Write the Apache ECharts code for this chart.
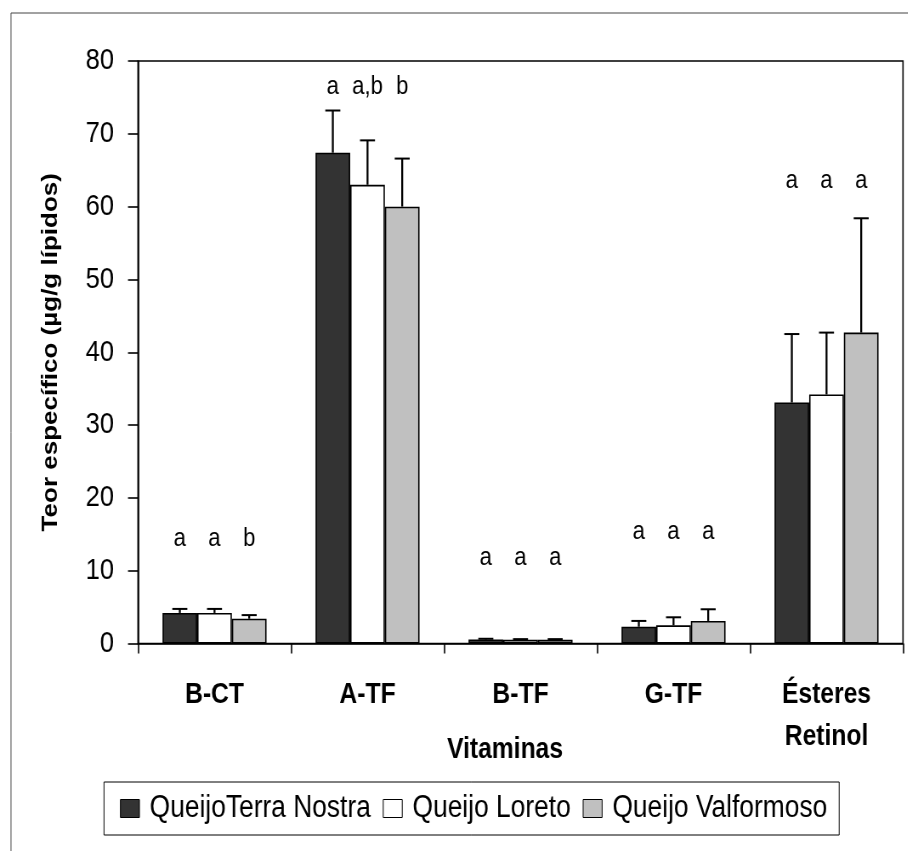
<!DOCTYPE html>
<html>
<head>
<meta charset="utf-8">
<script src="https://cdn.jsdelivr.net/npm/echarts@6/dist/echarts.min.js"></script>
<style>
  html, body { margin: 0; padding: 0; background: #fff; overflow: hidden; }
  #wrap { width: 908px; height: 851px; overflow: hidden; }
  /* The chart is laid out wider and squeezed horizontally, giving the narrow lettering */
  #chart { height: 851px; transform-origin: 0 0; }
</style>
</head>
<body>
<div id="wrap"><div id="chart"></div></div>
<script>
// Vitamin content per cheese (µg/g lipids), mean and upper standard deviation
const categories = ['B-CT', 'A-TF', 'B-TF', 'G-TF', 'Ésteres\nRetinol'];
const seriesNames = ['QueijoTerra Nostra', 'Queijo Loreto', 'Queijo Valformoso'];

const terraNostra = [4.2, 67.4, 0.55, 2.3, 33.1];
const loreto      = [4.2, 63.0, 0.5, 2.5, 34.2];
const valformoso  = [3.4, 60.0, 0.5, 3.1, 42.7];

const terraNostraSd = [0.55, 5.8, 0.1, 0.8, 9.4];
const loretoSd      = [0.55, 6.1, 0.1, 1.1, 8.5];
const valformosoSd  = [0.5, 6.6, 0.1, 1.6, 15.7];

// Significance letters and the height at which each group's letters sit
const lettersTerraNostra = ['a', 'a', 'a', 'a', 'a'];
const lettersLoreto      = ['a', 'a,b', 'a', 'a', 'a'];
const lettersValformoso  = ['b', 'b', 'a', 'a', 'a'];
const letterHeights = [14.4, 76.4, 11.8, 15.4, 63.5];

const yTicks = { min: 0, max: 80, interval: 10 };

const colors = ['#333333', '#ffffff', '#c0c0c0'];
const CAT_GAP = 0.32;
const FONT = "'Liberation Sans', Arial, sans-serif";

// horizontal squeeze factor; x distances below are given in on-screen pixels
const SX = 0.85;
const W = 908 / SX;
const hx = v => v / SX;

const el = document.getElementById('chart');
el.style.width = W + 'px';
el.style.transform = 'scaleX(' + SX + ')';

const means = [terraNostra, loreto, valformoso];
const sds = [terraNostraSd, loretoSd, valformosoSd];
const letters = [lettersTerraNostra, lettersLoreto, lettersValformoso];

function barCenter(api, cat, val, idx) {
  const band = api.size([1, 0])[0];
  const bw = band * (1 - CAT_GAP) / 3;
  const p = api.coord([cat, val]);
  return { x: p[0] + (idx - 1) * bw, y: p[1] };
}

function errorSeries(idx) {
  return {
    type: 'custom',
    name: seriesNames[idx] + ' sd',
    z: 5,
    silent: true,
    data: means[idx].map((m, i) => [i, m, sds[idx][i]]),
    encode: { x: 0, y: 1 },
    renderItem: function (params, api) {
      const c = api.value(0), m = api.value(1), e = api.value(2);
      const base = barCenter(api, c, m, idx);
      const top = barCenter(api, c, m + e, idx);
      return {
        type: 'group',
        children: [
          { type: 'line', shape: { x1: base.x, y1: base.y, x2: base.x, y2: top.y },
            style: { stroke: '#000', lineWidth: 2.3 } },
          { type: 'line', shape: { x1: base.x - hx(7.5), y1: top.y, x2: base.x + hx(7.5), y2: top.y },
            style: { stroke: '#000', lineWidth: 2 } }
        ]
      };
    }
  };
}

function letterSeries(idx) {
  return {
    type: 'custom',
    name: seriesNames[idx] + ' letters',
    z: 6,
    silent: true,
    data: letterHeights.map((h, i) => [i, h]),
    encode: { x: 0, y: 1 },
    renderItem: function (params, api) {
      const c = api.value(0), h = api.value(1);
      const p = barCenter(api, c, h, idx);
      return {
        type: 'text',
        x: p.x,
        y: p.y,
        style: {
          text: letters[idx][params.dataIndex],
          fill: '#000',
          font: '26px ' + FONT,
          align: 'center',
          verticalAlign: 'middle'
        }
      };
    }
  };
}

const chart = echarts.init(el, null, { renderer: 'canvas', width: W, height: 851 });

const barSeries = seriesNames.map((name, idx) => ({
  type: 'bar',
  name: name,
  data: means[idx],
  barGap: '0%',
  barCategoryGap: (CAT_GAP * 100) + '%',
  itemStyle: { color: colors[idx], borderColor: '#000', borderWidth: 1.6 },
  z: 3
}));

chart.setOption({
  animation: false,
  backgroundColor: '#fff',
  textStyle: { fontFamily: FONT },
  graphic: [{
    type: 'rect',
    shape: { x: hx(11), y: 13, width: 2000, height: 1000 },
    style: { fill: 'none', stroke: '#444', lineWidth: 1 },
    z: -10
  }],
  grid: {
    left: hx(138), right: hx(5), top: 61, bottom: 207.5,
    show: true, borderColor: '#000', borderWidth: 1.6, backgroundColor: 'transparent'
  },
  legend: {
    data: seriesNames,
    left: hx(104),
    top: 782,
    padding: [11, hx(12), 11, hx(16)],
    itemGap: hx(12),
    itemWidth: hx(19),
    itemHeight: 18,
    icon: 'rect',
    borderColor: '#000',
    borderWidth: 1,
    itemStyle: { borderColor: '#000', borderWidth: 1 },
    textStyle: { fontFamily: FONT, fontSize: 31, color: '#000', padding: [0, 0, 0, hx(6)] },
    selectedMode: false
  },
  xAxis: {
    type: 'category',
    data: categories,
    name: 'Vitaminas',
    nameLocation: 'middle',
    nameGap: 92,
    nameMoveOverlap: false,
    nameTextStyle: { fontFamily: FONT, fontWeight: 'bold', fontSize: 29, color: '#000', padding: [0, hx(31), 0, 0] },
    axisLine: { lineStyle: { color: '#000', width: 1.6 } },
    axisTick: { show: true, length: 10, inside: false, lineStyle: { color: '#000', width: 1.6 } },
    axisLabel: {
      fontFamily: FONT, fontWeight: 'bold', fontSize: 29, color: '#000',
      margin: 30, lineHeight: 42, verticalAlign: 'top'
    },
    splitLine: { show: false }
  },
  yAxis: {
    type: 'value',
    min: yTicks.min,
    max: yTicks.max,
    interval: yTicks.interval,
    name: 'Teor específico (µg/g lípidos)',
    nameLocation: 'middle',
    nameGap: 90,
    nameMoveOverlap: false,
    nameTextStyle: { fontFamily: FONT, fontWeight: 'bold', fontSize: 26, color: '#000' },
    axisLine: { show: true, lineStyle: { color: '#000', width: 1.6 } },
    axisTick: { show: true, length: hx(10), lineStyle: { color: '#000', width: 1.6 } },
    axisLabel: { fontFamily: FONT, fontSize: 30, color: '#000', margin: hx(24) },
    splitLine: { show: false }
  },
  series: [
    ...barSeries,
    errorSeries(0), errorSeries(1), errorSeries(2),
    letterSeries(0), letterSeries(1), letterSeries(2)
  ]
});
</script>
</body>
</html>
